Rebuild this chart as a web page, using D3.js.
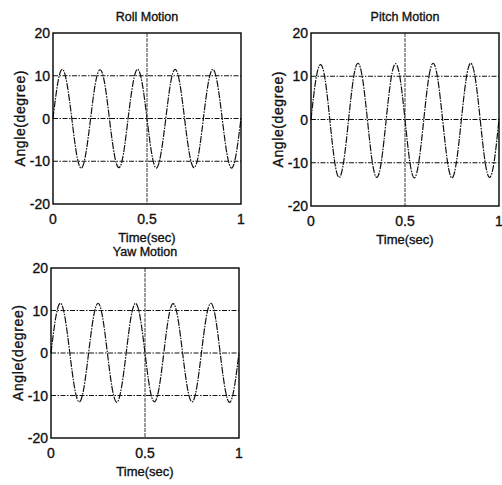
<!DOCTYPE html>
<html>
<head>
<meta charset="utf-8">
<script src="https://cdn.jsdelivr.net/npm/d3@7"></script>
<style>
  body { margin: 0; background: #fff; }
  svg { display: block; }
  text { font-family: "Liberation Sans", Arial, sans-serif; fill: #111; stroke: #111; stroke-width: 0.35px; }
</style>
</head>
<body>
<svg width="502" height="485"></svg>
<script>
// tijdstippen (sec)
const time = [0, 0.025, 0.05, 0.075, 0.1, 0.125, 0.15, 0.175, 0.2, 0.225,
  0.25, 0.275, 0.3, 0.325, 0.35, 0.375, 0.4, 0.425, 0.45, 0.475,
  0.5, 0.525, 0.55, 0.575, 0.6, 0.625, 0.65, 0.675, 0.7, 0.725,
  0.75, 0.775, 0.8, 0.825, 0.85, 0.875, 0.9, 0.925, 0.95, 0.975, 1];

const roll = [0, 8.2, 11.5, 8.0, 0, -8.2, -11.6, -8.1, 0, 8.1,
  11.4, 8.2, 0, -8.1, -11.5, -8.2, 0.2, 8.1, 11.5, 8.1,
  0, -8.2, -11.6, -8.0, 0, 8.2, 11.5, 8.1, -0.1, -8.1,
  -11.5, -8.2, 0, 8.1, 11.5, 8.1, 0, -8.2, -11.6, -8.1, 0];
const pitch = [0, 9.0, 12.7, 9.3, 0, -9.5, -13.4, -9.4, 0, 9.3,
  13.0, 9.2, 0, -9.5, -13.4, -9.5, 0, 9.2, 12.9, 9.2,
  0, -9.6, -13.5, -9.4, 0, 9.3, 13.0, 9.2, 0, -9.5,
  -13.5, -9.4, 0, 9.3, 13.0, 9.2, 0, -9.5, -13.4, -9.5, 0];
const yaw = [0, 8.3, 11.7, 8.2, 0, -8.1, -11.5, -8.2, 0, 8.2,
  11.7, 8.3, 0, -8.2, -11.6, -8.1, 0, 8.3, 11.7, 8.2,
  0, -8.2, -11.5, -8.2, 0, 8.3, 11.6, 8.2, 0, -8.1,
  -11.5, -8.2, 0, 8.2, 11.7, 8.3, 0, -8.2, -11.6, -8.1, 0];

const titles = ["Roll Motion", "Pitch Motion", "Yaw Motion"];
const xTicks = [0, 0.5, 1];
const yTicks = [-20, -10, 0, 10, 20];
const xLabel = "Time(sec)";
const yLabel = "Angle(degree)";

// plek van elk plaatje op het canvas
const panels = [
  {title: titles[0], values: roll,  left: 53,  right: 241, top: 33,  bottom: 204, ylab: 20},
  {title: titles[1], values: pitch, left: 311, right: 499, top: 33,  bottom: 206, ylab: 278},
  {title: titles[2], values: yaw,   left: 51,  right: 239, top: 268, bottom: 438, ylab: 18}
];

const svg = d3.select("svg");

panels.forEach(p => {
  let x = d3.scaleLinear().domain([0, 1]).range([p.left, p.right]);
  let y = d3.scaleLinear().domain([-20, 20]).range([p.bottom, p.top]);
  let g = svg.append("g");

  // grid lijnen
  g.selectAll(".hgrid")
    .data(yTicks.filter(d => d > -20 && d < 20))
    .enter()
    .append("line")
    .attr("x1", p.left).attr("x2", p.right)
    .attr("y1", d => y(d)).attr("y2", d => y(d))
    .attr("stroke", "#111").attr("stroke-width", 1)
    .attr("stroke-dasharray", "5,1.5,1.5,1.5");

  g.selectAll(".vgrid")
    .data(xTicks.filter(d => d > 0 && d < 1))
    .enter()
    .append("line")
    .attr("x1", d => x(d)).attr("x2", d => x(d))
    .attr("y1", p.top).attr("y2", p.bottom)
    .attr("stroke", "#222").attr("stroke-width", 0.9)
    .attr("stroke-dasharray", "4,1");

  // de sinus lijn
  let line = d3.line()
    .x((d, i) => x(time[i]))
    .y(d => y(d))
    .curve(d3.curveNatural);

  g.append("path")
    .attr("d", line(p.values))
    .attr("fill", "none")
    .attr("stroke", "#111")
    .attr("stroke-width", 1.2)
    .attr("stroke-dasharray", "7,1.2,1.5,1.2");

  // kader
  g.append("rect")
    .attr("x", p.left).attr("y", p.top)
    .attr("width", p.right - p.left).attr("height", p.bottom - p.top)
    .attr("fill", "none").attr("stroke", "#000").attr("stroke-width", 1.4);

  // as labels
  g.selectAll(".xt")
    .data(xTicks)
    .enter()
    .append("text")
    .attr("x", d => x(d))
    .attr("y", p.bottom + 20)
    .attr("text-anchor", "middle")
    .style("font-size", "14px")
    .text(d => d);

  g.selectAll(".yt")
    .data(yTicks)
    .enter()
    .append("text")
    .attr("x", p.left - 3)
    .attr("y", d => y(d) + 5)
    .attr("text-anchor", "end")
    .style("font-size", "14px")
    .text(d => d);

  g.append("text")
    .attr("x", (p.left + p.right) / 2)
    .attr("y", p.top - 12)
    .attr("text-anchor", "middle")
    .style("font-size", "12.5px")
    .text(p.title);

  g.append("text")
    .attr("x", (p.left + p.right) / 2)
    .attr("y", p.bottom + 38)
    .attr("text-anchor", "middle")
    .style("font-size", "13px")
    .text(xLabel);

  g.append("text")
    .attr("transform", "translate(" + (p.ylab + 5) + "," + ((p.top + p.bottom) / 2) + ") rotate(-90)")
    .attr("text-anchor", "middle")
    .attr("textLength", 96)
    .style("font-size", "14px")
    .text(yLabel);
});
</script>
</body>
</html>
